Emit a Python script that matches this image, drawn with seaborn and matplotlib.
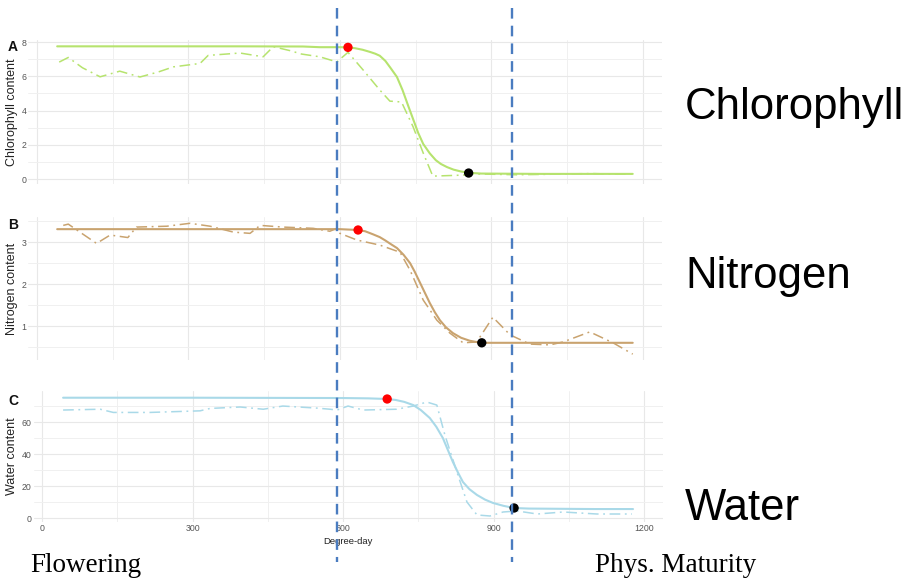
import numpy as np
import pandas as pd
import matplotlib
matplotlib.use("Agg")
import matplotlib.pyplot as plt
from matplotlib.lines import Line2D
import seaborn as sns

# ---------------- data ----------------
chl_fit_dd = [40, 200, 400, 527, 560, 600, 616, 630, 645, 660, 670, 679, 690, 700, 713, 724, 735, 745,
              755, 765, 778, 790, 800, 812, 825, 840, 857, 880, 1000, 1100, 1180]
chl_fit_y = [7.75, 7.75, 7.75, 7.74, 7.7, 7.7, 7.69, 7.64, 7.55, 7.42, 7.32, 7.2, 6.9, 6.5, 5.96, 5.2, 4.3, 3.5,
             2.7, 2.05, 1.5, 1.1, 0.88, 0.7, 0.55, 0.44, 0.36, 0.32, 0.3, 0.3, 0.3]
chl_raw_dd = [44, 62, 90, 125, 164, 204, 240, 270, 323, 339, 402, 448, 468, 501, 524, 560, 594,
              616, 646, 679, 699, 722, 745, 765, 784, 844, 863, 900, 950, 1000, 1050, 1100, 1150, 1180]
chl_raw_y = [6.83, 7.1, 6.5, 5.97, 6.3, 5.96, 6.25, 6.55, 6.75, 7.22, 7.36, 7.14, 7.73, 7.5, 7.3, 7.14, 6.84,
             7.4, 6.37, 5.2, 4.55, 4.5, 3.05, 1.52, 0.17, 0.23, 0.3, 0.28, 0.25, 0.27, 0.3, 0.32, 0.28, 0.3]
chl_start = (616, 7.69)
chl_end = (855, 0.35)

nit_fit_dd = [40, 300, 600, 636, 650, 665, 679, 690, 700, 713, 726, 739, 748, 758, 768, 778, 788, 798,
              810, 824, 840, 857, 870, 881, 950, 1100, 1180]
nit_fit_y = [3.31, 3.31, 3.31, 3.29, 3.26, 3.19, 3.12, 3.04, 2.96, 2.86, 2.7, 2.5, 2.3, 2.05, 1.8, 1.55, 1.33, 1.14,
             0.97, 0.83, 0.72, 0.65, 0.62, 0.6, 0.6, 0.6, 0.6]
nit_raw_dd = [52, 62, 85, 118, 145, 180, 197, 257, 303, 343, 389, 422, 442, 487, 547, 580, 594, 600,
              634, 679, 719, 739, 765, 792, 818, 844, 871, 903, 937, 976, 1016, 1042, 1095, 1141, 1180]
nit_raw_y = [3.4, 3.43, 3.24, 2.97, 3.17, 3.11, 3.36, 3.38, 3.45, 3.38, 3.24, 3.21, 3.4, 3.36, 3.33, 3.26, 3.33, 3.21,
             3.05, 2.93, 2.76, 2.33, 1.62, 1.14, 0.83, 0.6, 0.62, 1.21, 0.79, 0.57, 0.55, 0.62, 0.86, 0.6, 0.33]
nit_start = (636, 3.29)
nit_end = (881, 0.6)

wat_fit_dd = [42, 300, 600, 650, 688, 705, 722, 740, 755, 773, 786, 799, 809, 819, 829, 839, 852, 867,
              883, 899, 920, 941, 970, 1100, 1178]
wat_fit_y = [75.2, 75.2, 75.0, 74.8, 74.4, 73.8, 72.6, 70.6, 67.5, 62.5, 57, 50, 42.5, 35, 28.5, 22.5, 18, 14.4,
             11.5, 9.4, 7.6, 6.25, 5.9, 5.6, 5.6]
wat_raw_dd = [42, 116, 142, 215, 315, 335, 395, 441, 480, 548, 574, 588, 610, 640, 707, 740, 767, 787,
              803, 827, 847, 867, 893, 919, 947, 987, 1039, 1106, 1176]
wat_raw_y = [67.5, 68, 66, 66, 67, 68.5, 69.4, 68, 70, 68.7, 68, 67.5, 70, 67.5, 68, 70, 72.5, 70.6,
             51.9, 28.7, 10, 1.9, 1.25, 3.75, 4.4, 2.5, 3.75, 2.5, 2.5]
wat_start = (688, 74.4)
wat_end = (941, 6.25)

flowering_dd = 595
maturity_dd = 940

x_major = [0, 300, 600, 900, 1200]
x_minor = [150, 450, 750, 1050]

panel_letters = ["A", "B", "C"]
y_labels = ["Chlorophyll content", "Nitrogen content", "Water content"]
right_names = ["Chlorophyll", "Nitrogen", "Water"]
x_label = "Degree-day"
stage_labels = ["Flowering", "Phys. Maturity"]

# ---------------- style ----------------
sns.set_theme(style="whitegrid")
plt.rcParams['font.family'] = ['Liberation Sans', 'DejaVu Sans']

W, H = 908, 580
fig = plt.figure(figsize=(W / 100, H / 100), dpi=100)
fig.patch.set_facecolor("white")


def rect(l, r, t, b):
    return [l / W, 1 - b / H, (r - l) / W, (b - t) / H]


panels = [
    dict(rect=(28.4, 661.5, 40, 184), ylim=(-0.29, 8.12), ymaj=[0, 2, 4, 6, 8], ymin=[1, 3, 5, 7],
         fit=(chl_fit_dd, chl_fit_y), raw=(chl_raw_dd, chl_raw_y), s=chl_start, e=chl_end,
         color="#b6e36e", letter_y=47, name_y=108),
    dict(rect=(28.4, 661.5, 217, 360), ylim=(0.19, 3.6), ymaj=[1, 2, 3], ymin=[0.5, 1.5, 2.5, 3.5],
         fit=(nit_fit_dd, nit_fit_y), raw=(nit_raw_dd, nit_raw_y), s=nit_start, e=nit_end,
         color="#c9a36f", letter_y=225, name_y=276),
    dict(rect=(33.5, 662.6, 391, 522), ylim=(-2.5, 79.4), ymaj=[0, 20, 40, 60], ymin=[10, 30, 50, 70],
         fit=(wat_fit_dd, wat_fit_y), raw=(wat_raw_dd, wat_raw_y), s=wat_start, e=wat_end,
         color="#a9d9e8", letter_y=401, name_y=508),
]

axes = []
for i, p in enumerate(panels):
    l, r, t, b = p["rect"]
    ax = fig.add_axes(rect(l, r, t, b))
    ax.set_facecolor("white")
    axes.append(ax)
    fit = pd.DataFrame({"dd": p["fit"][0], "v": p["fit"][1]})
    raw = pd.DataFrame({"dd": p["raw"][0], "v": p["raw"][1]})
    sns.lineplot(data=raw, x="dd", y="v", ax=ax, color=p["color"], lw=1.1,
                 linestyle=(0, (7, 3, 1.2, 3)), estimator=None, zorder=3)
    sns.lineplot(data=fit, x="dd", y="v", ax=ax, color=p["color"], lw=1.5,
                 estimator=None, zorder=4)
    pts = pd.DataFrame({"dd": [p["s"][0], p["e"][0]], "v": [p["s"][1], p["e"][1]],
                        "kind": ["start", "end"]})
    sns.scatterplot(data=pts, x="dd", y="v", hue="kind", palette={"start": "red", "end": "black"},
                    s=45, edgecolor="none", ax=ax, legend=False, zorder=5)

    ax.set_xlim(-17, 1237)
    ax.set_ylim(*p["ylim"])
    ax.set_xticks(x_major)
    ax.set_xticks(x_minor, minor=True)
    ax.set_yticks(p["ymaj"])
    ax.set_yticks(p["ymin"], minor=True)
    ax.set_yticklabels([f"{v:g}" for v in p["ymaj"]])
    ax.grid(which="major", color="#e8e8e8", lw=0.8)
    ax.grid(which="minor", color="#f0f0f0", lw=0.7)
    for sp in ax.spines.values():
        sp.set_visible(False)
    ax.tick_params(axis="both", which="both", length=0, labelsize=6.3,
                   labelcolor="#555555", pad=1.5)
    ax.set_ylabel(y_labels[i], fontsize=9, color="#222222")
    ax.yaxis.set_label_coords((18.5 - l) / (r - l), 0.5)
    if i < 2:
        ax.set_xticklabels([])
        ax.set_xlabel("")
    else:
        ax.set_xticklabels([str(v) for v in x_major])
        ax.set_xlabel(x_label, fontsize=6.8, color="#222222", labelpad=3)

    fig.text(13 / W, 1 - p["letter_y"] / H, panel_letters[i], ha="center", va="center",
             fontsize=10, fontweight="bold", color="#111111")
    fig.text(685 / W, 1 - p["name_y"] / H, right_names[i], ha="left", va="center",
             fontsize=31.5, color="black")

# vertical dashed stage lines across the whole figure
inv = fig.transFigure.inverted()
for dd in (flowering_dd, maturity_dd):
    xd = axes[0].transData.transform((dd, 0))[0]
    xf = inv.transform((xd, 0))[0]
    fig.add_artist(Line2D([xf, xf], [1 - 8 / H, 1 - 562 / H], transform=fig.transFigure,
                          color="#4a7cc0", lw=1.7, linestyle=(0, (4.5, 3)), zorder=10))

fig.text(30 / W, 1 - 566 / H, stage_labels[0], ha="left", va="center",
         fontsize=19.5, family="Liberation Serif", color="black")
fig.text(595 / W, 1 - 566 / H, stage_labels[1], ha="left", va="center",
         fontsize=19.5, family="Liberation Serif", color="black")

fig.savefig("out.png", dpi=100, facecolor="white")
